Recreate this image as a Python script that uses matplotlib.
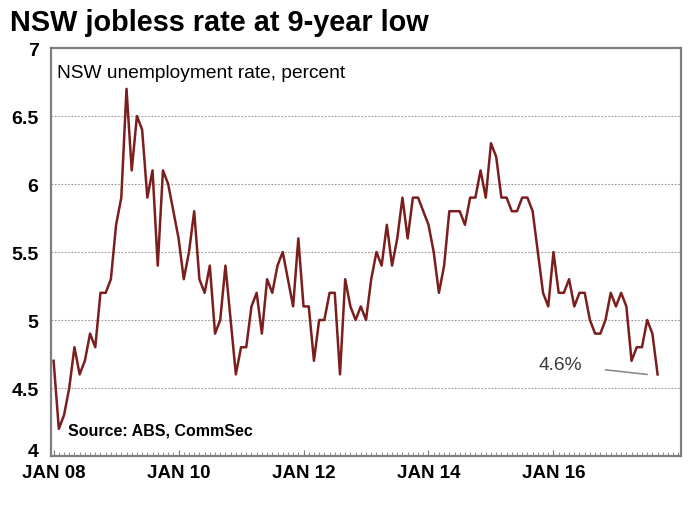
import numpy as np
import matplotlib
matplotlib.use('Agg')
import matplotlib.pyplot as plt
from matplotlib.ticker import MultipleLocator

plt.rcParams['font.family'] = ['Liberation Sans', 'DejaVu Sans']

# NSW unemployment rate, monthly from Jan 2008
rate = [4.7, 4.2, 4.3, 4.5, 4.8, 4.6, 4.7, 4.9, 4.8, 5.2, 5.2, 5.3,
        5.7, 5.9, 6.7, 6.1, 6.5, 6.4, 5.9, 6.1, 5.4, 6.1, 6.0, 5.8,
        5.6, 5.3, 5.5, 5.8, 5.3, 5.2, 5.4, 4.9, 5.0, 5.4, 5.0, 4.6,
        4.8, 4.8, 5.1, 5.2, 4.9, 5.3, 5.2, 5.4, 5.5, 5.3, 5.1, 5.6,
        5.1, 5.1, 4.7, 5.0, 5.0, 5.2, 5.2, 4.6, 5.3, 5.1, 5.0, 5.1,
        5.0, 5.3, 5.5, 5.4, 5.7, 5.4, 5.6, 5.9, 5.6, 5.9, 5.9, 5.8,
        5.7, 5.5, 5.2, 5.4, 5.8, 5.8, 5.8, 5.7, 5.9, 5.9, 6.1, 5.9,
        6.3, 6.2, 5.9, 5.9, 5.8, 5.8, 5.9, 5.9, 5.8, 5.5, 5.2, 5.1,
        5.5, 5.2, 5.2, 5.3, 5.1, 5.2, 5.2, 5.0, 4.9, 4.9, 5.0, 5.2,
        5.1, 5.2, 5.1, 4.7, 4.8, 4.8, 5.0, 4.9, 4.6]
months = np.arange(len(rate))

tick_pos = [0, 24, 48, 72, 96]
tick_labels = ['JAN 08', 'JAN 10', 'JAN 12', 'JAN 14', 'JAN 16']
y_ticks = [4, 4.5, 5, 5.5, 6, 6.5, 7]
y_labels = ['4', '4.5', '5', '5.5', '6', '6.5', '7']

fig = plt.figure(figsize=(6.94, 5.10), dpi=100)
ax = fig.add_axes([0.0735, 0.1039, 0.9078, 0.8000])

ax.plot(months, rate, color='#7b1e1e', lw=1.8, zorder=3)

ax.set_xlim(-0.5, 120.5)
ax.set_ylim(4, 7)
ax.set_yticks(y_ticks)
ax.set_yticklabels(y_labels, fontsize=14, fontweight='bold')
# bottom label sits on the axis line rather than centred on it
ax.get_yticklabels()[0].set_verticalalignment('baseline')
ax.set_xticks(tick_pos)
ax.set_xticklabels(tick_labels, fontsize=13.5, fontweight='bold')
ax.xaxis.set_minor_locator(MultipleLocator(1))
ax.tick_params(axis='x', which='major', length=4, direction='in', color='#777777', pad=6)
ax.tick_params(axis='x', which='minor', length=3, direction='in', color='#777777')
ax.tick_params(axis='y', length=0, pad=9)

for v in y_ticks[1:-1]:
    ax.axhline(v, color='#999999', lw=0.8, ls=(0, (1.5, 1.5)), zorder=1)

for s in ax.spines.values():
    s.set_color('#7f7f7f')
    s.set_linewidth(1.6)

fig.text(0.0144, 0.955, 'NSW jobless rate at 9-year low', fontsize=20.8,
         fontweight='bold', va='center', ha='left')
ax.text(0.009, 0.94, 'NSW unemployment rate, percent', transform=ax.transAxes,
        fontsize=13.8, va='center', ha='left')
ax.text(0.027, 0.064, 'Source: ABS, CommSec', transform=ax.transAxes,
        fontsize=11.5, fontweight='bold', va='center', ha='left')

ax.annotate('%.1f%%' % rate[-1], xy=(months[-1] - 2, rate[-1]),
            xytext=(-47, 7), textcoords='offset points',
            fontsize=13.8, color='#3a3a3a', ha='right', va='center',
            arrowprops=dict(arrowstyle='-', color='#8c8c8c', lw=1.2,
                            relpos=(1, 0.35), shrinkA=15, shrinkB=0))

fig.savefig('out.png', dpi=100)
